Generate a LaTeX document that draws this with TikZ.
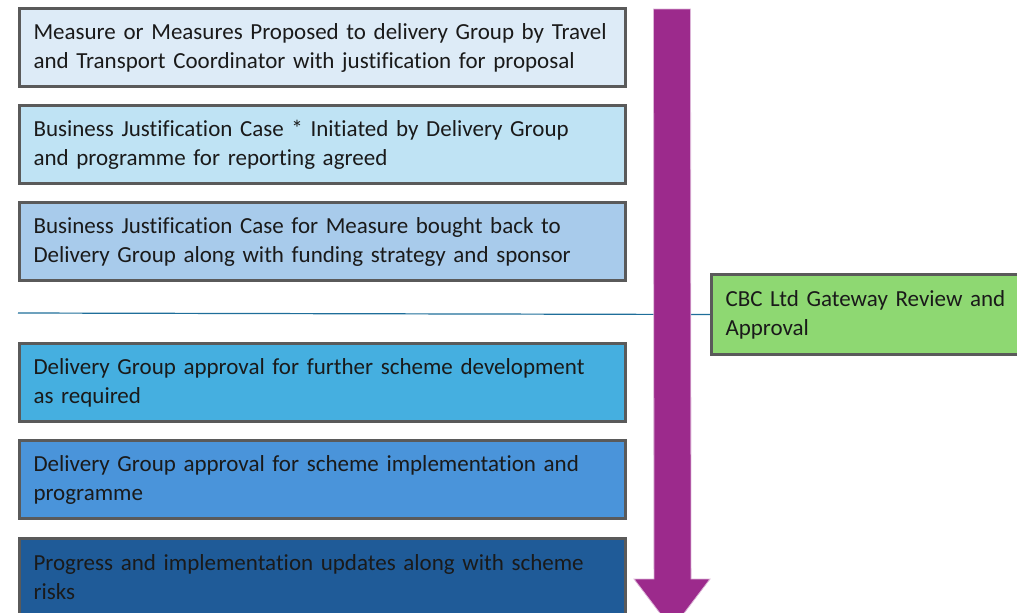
\documentclass[tikz,border=0pt]{standalone}
\usepackage{fontspec}
\setmainfont{Carlito}[Ligatures=NoCommon]
\definecolor{boxgrey}{HTML}{5A5A5A}
\definecolor{textblack}{HTML}{1A1A1A}
\definecolor{stageA}{HTML}{DDEBF7}
\definecolor{stageB}{HTML}{BFE3F4}
\definecolor{stageC}{HTML}{A8CBEB}
\definecolor{stageD}{HTML}{45AFE0}
\definecolor{stageE}{HTML}{4A94DA}
\definecolor{stageF}{HTML}{1F5B98}
\definecolor{gateGreen}{HTML}{8ED872}
\definecolor{flowPurple}{HTML}{9C2A8C}
\definecolor{gateLine}{HTML}{1F6E9A}
\tikzset{
	stage/.style={draw=boxgrey,line width=1.5pt,anchor=north west,text width=289pt,inner xsep=7pt,
		minimum height=39pt,align=left,font=\fontsize{11.5}{14.5}\selectfont,text=textblack},
	gatebox/.style={stage,fill=gateGreen,text width=146pt,minimum height=40pt}
}
\begin{document}
\begin{tikzpicture}[x=0.5pt,y=-0.5pt]
	\useasboundingbox (0,0) rectangle (1017,612);
	\clip (0,0) rectangle (1017,612); % Clips the picture...
		\coordinate (LineStart) at (18,313);
		\coordinate (ShaftTop)  at (672,9);

		\node[stage,fill=stageA] (Propose)   at (18,7)   {Measure or Measures Proposed to delivery Group by Travel\\and Transport Coordinator with justification for proposal};
		\node[stage,fill=stageB] (Initiate)  at (18,104) {Business Justification Case * Initiated by Delivery Group\\and programme for reporting agreed};
		\node[stage,fill=stageC] (Bringback) at (18,201) {Business Justification Case for Measure bought back to\\Delivery Group along with funding strategy and sponsor};
		\node[stage,fill=stageD] (Develop)   at (18,342) {Delivery Group approval for further scheme development\\as required};
		\node[stage,fill=stageE] (Implement) at (18,439) {Delivery Group approval for scheme implementation and\\programme};
		\node[stage,fill=stageF] (Progress)  at (18,537) {Progress and implementation updates along with scheme\\risks};

		\node[gatebox] (Gateway) at (710,273) {CBC Ltd Gateway Review and\\Approval};

		\draw[gateLine,line width=0.6pt] (LineStart) -- (Gateway.west);% gateway line

		% big downward arrow
		\fill[flowPurple,draw=flowPurple!35,line width=0.4pt]
			([xshift=-18.5*0.5pt]ShaftTop) -- ([xshift=18.5*0.5pt]ShaftTop) -- (691,579) -- (710,579)
			-- (672,629) -- (634,579) -- (654,579) -- cycle;
	\end{tikzpicture}
\end{document}
